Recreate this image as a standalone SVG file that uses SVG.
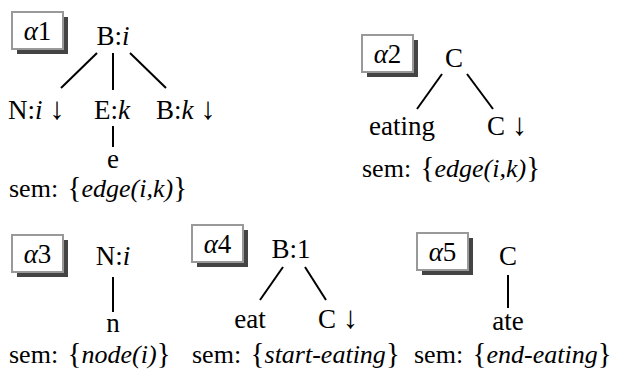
<svg xmlns="http://www.w3.org/2000/svg" width="617" height="376" viewBox="0 0 617 376" font-family="Liberation Serif, Times New Roman, serif">
<style>
text{font-size:27px;fill:#000}
.s{font-size:26px}
.b{font-size:29px}
.a{font-size:31px}
.c{text-anchor:middle}
.i{font-style:italic}
.box{fill:#fff;stroke:#999;stroke-width:2}
.sh{fill:#444}
.ln{stroke:#000;stroke-width:2;fill:none}
</style>
<rect width="617" height="376" fill="#fff"/>
<g id="a1">
<rect class="sh" x="17" y="17" width="51" height="37"/>
<rect class="box" x="12" y="12" width="51" height="37"/>
<text class="c" x="37.5" y="40"><tspan class="i">α</tspan>1</text>
<text class="c" x="113" y="45">B:<tspan class="i">i</tspan></text>
<text x="8" y="119">N:<tspan class="i">i</tspan> <tspan class="a">↓</tspan></text>
<text class="c" x="112" y="119">E:<tspan class="i">k</tspan></text>
<text x="156" y="119">B:<tspan class="i">k</tspan> <tspan class="a">↓</tspan></text>
<text class="c" x="113" y="168">e</text>
<text class="s" x="9" y="197">sem: <tspan class="b" dx="3">{</tspan><tspan class="i">edge(i,k)</tspan><tspan class="b">}</tspan></text>
</g>
<g id="a2">
<rect class="sh" x="367" y="40" width="51" height="37"/>
<rect class="box" x="362" y="35" width="51" height="37"/>
<text class="c" x="387.5" y="63"><tspan class="i">α</tspan>2</text>
<text class="c" x="454" y="67">C</text>
<text class="c" x="402" y="135">eating</text>
<text x="487" y="135">C <tspan class="a">↓</tspan></text>
<text class="s" x="362" y="177">sem: <tspan class="b" dx="3">{</tspan><tspan class="i">edge(i,k)</tspan><tspan class="b">}</tspan></text>
</g>
<g id="a3">
<rect class="sh" x="17" y="240" width="51" height="37"/>
<rect class="box" x="12" y="235" width="51" height="37"/>
<text class="c" x="37.5" y="263"><tspan class="i">α</tspan>3</text>
<text class="c" x="113" y="265">N:<tspan class="i">i</tspan></text>
<text class="c" x="113" y="332">n</text>
<text class="s" x="9" y="363">sem: <tspan class="b" dx="3">{</tspan><tspan class="i">node(i)</tspan><tspan class="b">}</tspan></text>
</g>
<g id="a4">
<rect class="sh" x="197" y="230" width="51" height="37"/>
<rect class="box" x="192" y="225" width="51" height="37"/>
<text class="c" x="217.5" y="253"><tspan class="i">α</tspan>4</text>
<text class="c" x="291" y="258">B:1</text>
<text class="c" x="250" y="328">eat</text>
<text x="318" y="328">C <tspan class="a">↓</tspan></text>
<text class="s" x="192" y="363">sem: <tspan class="b" dx="3">{</tspan><tspan class="i">start-eating</tspan><tspan class="b">}</tspan></text>
</g>
<g id="a5">
<rect class="sh" x="422" y="238" width="51" height="37"/>
<rect class="box" x="417" y="233" width="51" height="37"/>
<text class="c" x="442.5" y="261"><tspan class="i">α</tspan>5</text>
<text class="c" x="508" y="265">C</text>
<text class="c" x="508" y="330">ate</text>
<text class="s" x="414" y="363">sem: <tspan class="b" dx="3">{</tspan><tspan class="i">end-eating</tspan><tspan class="b">}</tspan></text>
</g>
<g id="connectors">
<line class="ln" x1="97" y1="53" x2="61" y2="88"/>
<line class="ln" x1="113" y1="53" x2="113" y2="90"/>
<line class="ln" x1="130" y1="53" x2="166" y2="88"/>
<line class="ln" x1="113" y1="126" x2="113" y2="147"/>
<line class="ln" x1="442" y1="74" x2="417" y2="109"/>
<line class="ln" x1="467" y1="74" x2="493" y2="109"/>
<line class="ln" x1="113" y1="277" x2="113" y2="312"/>
<line class="ln" x1="283" y1="267" x2="260" y2="300"/>
<line class="ln" x1="305" y1="267" x2="326" y2="300"/>
<line class="ln" x1="508" y1="275" x2="508" y2="308"/>
</g>
</svg>
